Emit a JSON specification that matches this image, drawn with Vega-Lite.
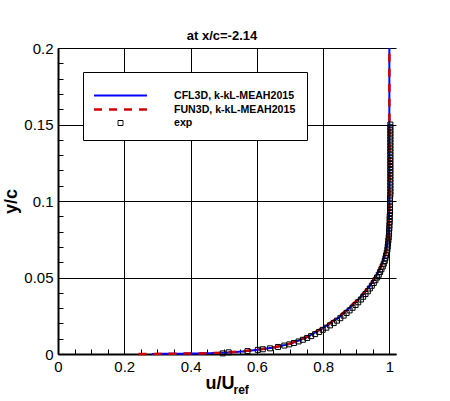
{
  "$schema": "https://vega.github.io/schema/vega-lite/v6.json",
  "width": 338,
  "height": 306,
  "autosize": {"type": "none"},
  "padding": {"left": 58, "top": 48, "right": 54, "bottom": 47},
  "background": "white",
  "title": {"text": "at x/c=-2.14", "font": "Liberation Sans", "fontSize": 13, "fontWeight": "bold", "color": "black", "anchor": "middle", "frame": "group", "dx": -5, "dy": 23, "baseline": "alphabetic", "offset": 11},
  "config": {
    "view": {"stroke": null},
    "axis": {
      "labelFont": "Liberation Sans", "labelFontSize": 15, "labelColor": "black",
      "titleFont": "Liberation Sans", "titleFontSize": 18, "titleFontWeight": "bold", "titleColor": "black",
      "gridColor": "black", "gridOpacity": 1, "gridWidth": 1,
      "domainColor": "black", "domainWidth": 2, "tickColor": "black", "tickWidth": 1,
      "labelFlush": false, "labelOverlap": false
    },
    "legend": {
      "fillColor": "white", "strokeColor": "black", "padding": 11,
      "labelFont": "Liberation Sans", "labelFontSize": 10.6, "labelFontWeight": "bold", "labelColor": "black",
      "labelOffset": 46, "rowPadding": 0, "symbolSize": 156, "symbolOffset": 19,
      "titleFontSize": 1, "titlePadding": 4, "symbolFillColor": "transparent"
    }
  },
  "datasets": {
    "cfd": [
      {"series": "CFL3D, k-kL-MEAH2015", "u": 0.284, "y": 0.0},
      {"series": "CFL3D, k-kL-MEAH2015", "u": 0.32, "y": 0.0001},
      {"series": "CFL3D, k-kL-MEAH2015", "u": 0.36, "y": 0.0002},
      {"series": "CFL3D, k-kL-MEAH2015", "u": 0.40, "y": 0.0003},
      {"series": "CFL3D, k-kL-MEAH2015", "u": 0.45, "y": 0.0005},
      {"series": "CFL3D, k-kL-MEAH2015", "u": 0.50, "y": 0.0008},
      {"series": "CFL3D, k-kL-MEAH2015", "u": 0.55, "y": 0.0015},
      {"series": "CFL3D, k-kL-MEAH2015", "u": 0.60, "y": 0.0027},
      {"series": "CFL3D, k-kL-MEAH2015", "u": 0.65, "y": 0.0042},
      {"series": "CFL3D, k-kL-MEAH2015", "u": 0.70, "y": 0.0066},
      {"series": "CFL3D, k-kL-MEAH2015", "u": 0.75, "y": 0.0108},
      {"series": "CFL3D, k-kL-MEAH2015", "u": 0.80, "y": 0.0170},
      {"series": "CFL3D, k-kL-MEAH2015", "u": 0.85, "y": 0.0243},
      {"series": "CFL3D, k-kL-MEAH2015", "u": 0.90, "y": 0.0343},
      {"series": "CFL3D, k-kL-MEAH2015", "u": 0.925, "y": 0.0400},
      {"series": "CFL3D, k-kL-MEAH2015", "u": 0.95, "y": 0.0473},
      {"series": "CFL3D, k-kL-MEAH2015", "u": 0.97, "y": 0.0548},
      {"series": "CFL3D, k-kL-MEAH2015", "u": 0.98, "y": 0.0598},
      {"series": "CFL3D, k-kL-MEAH2015", "u": 0.99, "y": 0.0668},
      {"series": "CFL3D, k-kL-MEAH2015", "u": 0.995, "y": 0.0745},
      {"series": "CFL3D, k-kL-MEAH2015", "u": 0.998, "y": 0.0850},
      {"series": "CFL3D, k-kL-MEAH2015", "u": 0.9995, "y": 0.0950},
      {"series": "CFL3D, k-kL-MEAH2015", "u": 1.0, "y": 0.11},
      {"series": "CFL3D, k-kL-MEAH2015", "u": 1.0, "y": 0.2},
      {"series": "FUN3D, k-kL-MEAH2015", "u": 0.243, "y": 0.0},
      {"series": "FUN3D, k-kL-MEAH2015", "u": 0.28, "y": 0.00005},
      {"series": "FUN3D, k-kL-MEAH2015", "u": 0.32, "y": 0.0001},
      {"series": "FUN3D, k-kL-MEAH2015", "u": 0.36, "y": 0.0002},
      {"series": "FUN3D, k-kL-MEAH2015", "u": 0.40, "y": 0.0003},
      {"series": "FUN3D, k-kL-MEAH2015", "u": 0.45, "y": 0.0005},
      {"series": "FUN3D, k-kL-MEAH2015", "u": 0.50, "y": 0.0009},
      {"series": "FUN3D, k-kL-MEAH2015", "u": 0.55, "y": 0.0016},
      {"series": "FUN3D, k-kL-MEAH2015", "u": 0.60, "y": 0.0028},
      {"series": "FUN3D, k-kL-MEAH2015", "u": 0.65, "y": 0.0043},
      {"series": "FUN3D, k-kL-MEAH2015", "u": 0.70, "y": 0.0068},
      {"series": "FUN3D, k-kL-MEAH2015", "u": 0.75, "y": 0.0111},
      {"series": "FUN3D, k-kL-MEAH2015", "u": 0.80, "y": 0.0173},
      {"series": "FUN3D, k-kL-MEAH2015", "u": 0.85, "y": 0.0247},
      {"series": "FUN3D, k-kL-MEAH2015", "u": 0.90, "y": 0.0347},
      {"series": "FUN3D, k-kL-MEAH2015", "u": 0.925, "y": 0.0405},
      {"series": "FUN3D, k-kL-MEAH2015", "u": 0.95, "y": 0.0478},
      {"series": "FUN3D, k-kL-MEAH2015", "u": 0.97, "y": 0.0553},
      {"series": "FUN3D, k-kL-MEAH2015", "u": 0.98, "y": 0.0603},
      {"series": "FUN3D, k-kL-MEAH2015", "u": 0.99, "y": 0.0673},
      {"series": "FUN3D, k-kL-MEAH2015", "u": 0.995, "y": 0.0750},
      {"series": "FUN3D, k-kL-MEAH2015", "u": 0.998, "y": 0.0855},
      {"series": "FUN3D, k-kL-MEAH2015", "u": 0.9995, "y": 0.0960},
      {"series": "FUN3D, k-kL-MEAH2015", "u": 1.0, "y": 0.11},
      {"series": "FUN3D, k-kL-MEAH2015", "u": 1.0, "y": 0.2}
    ],
    "exp": [
      {"series": "exp", "u": 0.497, "y": 0.0004}, {"series": "exp", "u": 0.515, "y": 0.0011},
      {"series": "exp", "u": 0.572, "y": 0.0019}, {"series": "exp", "u": 0.603, "y": 0.0027},
      {"series": "exp", "u": 0.618, "y": 0.0031}, {"series": "exp", "u": 0.640, "y": 0.0037},
      {"series": "exp", "u": 0.664, "y": 0.0046}, {"series": "exp", "u": 0.683, "y": 0.0055},
      {"series": "exp", "u": 0.698, "y": 0.0063}, {"series": "exp", "u": 0.712, "y": 0.0072},
      {"series": "exp", "u": 0.726, "y": 0.0082}, {"series": "exp", "u": 0.739, "y": 0.0093},
      {"series": "exp", "u": 0.752, "y": 0.0105}, {"series": "exp", "u": 0.764, "y": 0.0117},
      {"series": "exp", "u": 0.776, "y": 0.0130}, {"series": "exp", "u": 0.788, "y": 0.0144},
      {"series": "exp", "u": 0.799, "y": 0.0158}, {"series": "exp", "u": 0.810, "y": 0.0172},
      {"series": "exp", "u": 0.821, "y": 0.0187}, {"series": "exp", "u": 0.832, "y": 0.0202},
      {"series": "exp", "u": 0.842, "y": 0.0218}, {"series": "exp", "u": 0.852, "y": 0.0234},
      {"series": "exp", "u": 0.862, "y": 0.0251}, {"series": "exp", "u": 0.871, "y": 0.0268},
      {"series": "exp", "u": 0.880, "y": 0.0285}, {"series": "exp", "u": 0.889, "y": 0.0302},
      {"series": "exp", "u": 0.898, "y": 0.0320}, {"series": "exp", "u": 0.906, "y": 0.0338},
      {"series": "exp", "u": 0.914, "y": 0.0356}, {"series": "exp", "u": 0.921, "y": 0.0374},
      {"series": "exp", "u": 0.928, "y": 0.0392}, {"series": "exp", "u": 0.935, "y": 0.0410},
      {"series": "exp", "u": 0.941, "y": 0.0428}, {"series": "exp", "u": 0.947, "y": 0.0446},
      {"series": "exp", "u": 0.953, "y": 0.0464}, {"series": "exp", "u": 0.958, "y": 0.0482},
      {"series": "exp", "u": 0.963, "y": 0.0500}, {"series": "exp", "u": 0.968, "y": 0.0518},
      {"series": "exp", "u": 0.972, "y": 0.0536}, {"series": "exp", "u": 0.976, "y": 0.0554},
      {"series": "exp", "u": 0.980, "y": 0.0572}, {"series": "exp", "u": 0.983, "y": 0.0590},
      {"series": "exp", "u": 0.986, "y": 0.0608}, {"series": "exp", "u": 0.988, "y": 0.0626},
      {"series": "exp", "u": 0.990, "y": 0.0644}, {"series": "exp", "u": 0.992, "y": 0.0662},
      {"series": "exp", "u": 0.994, "y": 0.0682}, {"series": "exp", "u": 0.995, "y": 0.0702},
      {"series": "exp", "u": 0.996, "y": 0.0722}, {"series": "exp", "u": 0.997, "y": 0.0742},
      {"series": "exp", "u": 0.998, "y": 0.0762}, {"series": "exp", "u": 0.999, "y": 0.0782},
      {"series": "exp", "u": 0.999, "y": 0.0802}, {"series": "exp", "u": 1.000, "y": 0.0822},
      {"series": "exp", "u": 1.000, "y": 0.0842}, {"series": "exp", "u": 1.001, "y": 0.0862},
      {"series": "exp", "u": 1.001, "y": 0.0882}, {"series": "exp", "u": 1.001, "y": 0.0902},
      {"series": "exp", "u": 1.002, "y": 0.0922}, {"series": "exp", "u": 1.002, "y": 0.0942},
      {"series": "exp", "u": 1.002, "y": 0.0962}, {"series": "exp", "u": 1.002, "y": 0.0982},
      {"series": "exp", "u": 1.002, "y": 0.1002}, {"series": "exp", "u": 1.002, "y": 0.1022},
      {"series": "exp", "u": 1.003, "y": 0.1042}, {"series": "exp", "u": 1.003, "y": 0.1062},
      {"series": "exp", "u": 1.003, "y": 0.1082}, {"series": "exp", "u": 1.003, "y": 0.1102},
      {"series": "exp", "u": 1.003, "y": 0.1122}, {"series": "exp", "u": 1.003, "y": 0.1142},
      {"series": "exp", "u": 1.003, "y": 0.1162}, {"series": "exp", "u": 1.003, "y": 0.1182},
      {"series": "exp", "u": 1.003, "y": 0.1202}, {"series": "exp", "u": 1.003, "y": 0.1222},
      {"series": "exp", "u": 1.003, "y": 0.1242}, {"series": "exp", "u": 1.003, "y": 0.1262},
      {"series": "exp", "u": 1.003, "y": 0.1282}, {"series": "exp", "u": 1.003, "y": 0.1302},
      {"series": "exp", "u": 1.003, "y": 0.1322}, {"series": "exp", "u": 1.003, "y": 0.1342},
      {"series": "exp", "u": 1.003, "y": 0.1362}, {"series": "exp", "u": 1.003, "y": 0.1382},
      {"series": "exp", "u": 1.003, "y": 0.1402}, {"series": "exp", "u": 1.003, "y": 0.1422},
      {"series": "exp", "u": 1.003, "y": 0.1442}, {"series": "exp", "u": 1.003, "y": 0.1462},
      {"series": "exp", "u": 1.003, "y": 0.1482}, {"series": "exp", "u": 1.003, "y": 0.1500}
    ]
  },
  "layer": [
    {
      "data": {"name": "cfd"},
      "mark": {"type": "line"},
      "encoding": {
        "x": {
          "field": "u", "type": "quantitative",
          "scale": {"domain": [0, 1.02], "nice": false, "zero": false},
          "axis": {
            "orient": "bottom", "values": [0, 0.2, 0.4, 0.6, 0.8, 1], "format": "~g",
            "ticks": false, "labelPadding": 5, "grid": true, "domain": true,
            "title": "u/U", "titleX": 147, "titleY": 34, "titleAlign": "left", "titleBaseline": "alphabetic"
          }
        },
        "y": {
          "field": "y", "type": "quantitative",
          "scale": {"domain": [0, 0.2], "nice": false, "zero": false},
          "axis": {
            "orient": "left", "values": [0, 0.05, 0.1, 0.15, 0.2], "format": "~g",
            "ticks": false, "labelPadding": 5, "grid": true, "domain": true,
            "title": "y/c", "titleAngle": 270, "titleX": -42, "titleY": 153, "titleAlign": "center", "titleBaseline": "alphabetic"
          }
        },
        "order": {"field": "y", "type": "quantitative"},
        "color": {
          "field": "series", "type": "nominal",
          "scale": {"domain": ["CFL3D, k-kL-MEAH2015", "FUN3D, k-kL-MEAH2015", "exp"], "range": ["#0000ff", "#cc0000", "#000000"]},
          "legend": {"title": " ", "orient": "none", "legendX": 25, "legendY": 24}
        },
        "strokeDash": {
          "field": "series", "type": "nominal",
          "scale": {"domain": ["CFL3D, k-kL-MEAH2015", "FUN3D, k-kL-MEAH2015", "exp"], "range": [[1, 0], [8, 7], [1, 0]]},
          "legend": {"title": " ", "orient": "none", "legendX": 25, "legendY": 24}
        },
        "strokeWidth": {
          "field": "series", "type": "nominal",
          "scale": {"type": "ordinal", "domain": ["CFL3D, k-kL-MEAH2015", "FUN3D, k-kL-MEAH2015", "exp"], "range": [2, 2.5, 1]},
          "legend": {"title": " ", "orient": "none", "legendX": 25, "legendY": 24}
        }
      }
    },
    {
      "data": {"name": "exp"},
      "mark": {"type": "point", "filled": false, "size": 156, "opacity": 1},
      "encoding": {
        "x": {
          "field": "u", "type": "quantitative",
          "scale": {"domain": [0, 1.02], "nice": false, "zero": false},
          "axis": {
            "orient": "bottom",
            "values": [0, 0.05, 0.1, 0.15, 0.2, 0.25, 0.3, 0.35, 0.4, 0.45, 0.5, 0.55, 0.6, 0.65, 0.7, 0.75, 0.8, 0.85, 0.9, 0.95, 1],
            "ticks": true, "tickSize": -5, "labels": false, "grid": false, "domain": false,
            "title": "ref", "titleFontSize": 12, "titleX": 175, "titleY": 39, "titleAlign": "left", "titleBaseline": "alphabetic"
          }
        },
        "y": {
          "field": "y", "type": "quantitative",
          "scale": {"domain": [0, 0.2], "nice": false, "zero": false},
          "axis": {
            "orient": "left",
            "values": [0, 0.01, 0.02, 0.03, 0.04, 0.05, 0.06, 0.07, 0.08, 0.09, 0.1, 0.11, 0.12, 0.13, 0.14, 0.15, 0.16, 0.17, 0.18, 0.19, 0.2],
            "ticks": true, "tickSize": -5, "labels": false, "grid": false, "domain": false, "title": null
          }
        },
        "color": {
          "field": "series", "type": "nominal",
          "scale": {"domain": ["CFL3D, k-kL-MEAH2015", "FUN3D, k-kL-MEAH2015", "exp"], "range": ["#0000ff", "#cc0000", "#000000"]},
          "legend": {"title": " ", "orient": "none", "legendX": 25, "legendY": 24}
        },
        "shape": {
          "field": "series", "type": "nominal",
          "scale": {"domain": ["CFL3D, k-kL-MEAH2015", "FUN3D, k-kL-MEAH2015", "exp"], "range": ["M-4.24,0H4.24", "M-4.24,0H4.24", "M-0.4,-0.4H0.4V0.4H-0.4Z"]},
          "legend": {"title": " ", "orient": "none", "legendX": 25, "legendY": 24}
        },
        "strokeWidth": {
          "field": "series", "type": "nominal",
          "scale": {"type": "ordinal", "domain": ["CFL3D, k-kL-MEAH2015", "FUN3D, k-kL-MEAH2015", "exp"], "range": [2, 2.5, 1]},
          "legend": {"title": " ", "orient": "none", "legendX": 25, "legendY": 24}
        }
      }
    }
  ],
  "resolve": {"axis": {"x": "independent", "y": "independent"}}
}
